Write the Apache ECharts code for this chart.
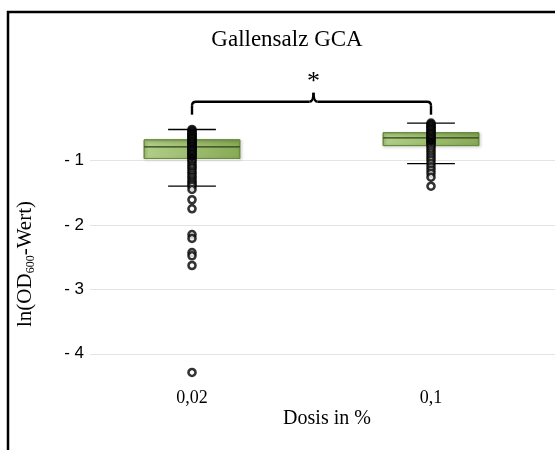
<!DOCTYPE html>
<html>
<head>
<meta charset="utf-8">
<script src="https://cdn.jsdelivr.net/npm/echarts@6/dist/echarts.min.js"></script>
<style>
  html, body { margin: 0; padding: 0; background: #fff; }
  #chart { width: 555px; height: 450px; }
</style>
</head>
<body>
<div id="chart"></div>
<script>
// Box-and-whisker summary per dose group
const categories = ['0,02', '0,1'];
const whiskerLow = [-1.40, -1.05];
const quartile1 = [-0.97, -0.77];
const medians = [-0.79, -0.65];
const quartile3 = [-0.68, -0.57];
const whiskerHigh = [-0.52, -0.42];
const means = [-0.95, -0.71];

// Individual measurements (inner points and outliers)
const pointsLowDose = [-0.52, -0.54, -0.56, -0.58, -0.60, -0.61, -0.63, -0.65, -0.66, -0.68,
  -0.70, -0.71, -0.73, -0.74, -0.76, -0.78, -0.79, -0.81, -0.83, -0.84, -0.86, -0.88,
  -0.90, -0.91, -0.93, -0.95, -0.97, -1.00, -1.03, -1.07, -1.10, -1.13, -1.17, -1.20,
  -1.24, -1.27, -1.31, -1.34, -1.37, -1.40];
const outliersLowDose = [-1.45, -1.61, -1.75, -2.15, -2.21, -2.43, -2.48, -2.63, -4.29];
const pointsHighDose = [-0.42, -0.44, -0.46, -0.48, -0.50, -0.52, -0.54, -0.56, -0.58, -0.60,
  -0.62, -0.64, -0.66, -0.68, -0.70, -0.72, -0.74, -0.77, -0.80, -0.84, -0.88, -0.92,
  -0.96, -1.00, -1.05];
const outliersHighDose = [-1.10, -1.15, -1.20, -1.26, -1.40];

// Axis ticks and texts
const yTicks = [-1, -2, -3, -4];
const yMin = -4.5;
const yMax = 0;
const chartTitle = 'Gallensalz GCA';
const xTitle = 'Dosis in %';
const significance = '*';

const serif = '"Liberation Serif", "Times New Roman", serif';
const sans = '"Liberation Sans", Arial, sans-serif';

const chart = echarts.init(document.getElementById('chart'), null, { renderer: 'canvas' });

const boxData = categories.map((c, i) =>
  [i, whiskerLow[i], quartile1[i], medians[i], quartile3[i], whiskerHigh[i]]);

const allLow = pointsLowDose.concat(outliersLowDose).map(v => [0, v]);
const allHigh = pointsHighDose.concat(outliersHighDose).map(v => [1, v]);

function renderBox(params, api) {
  const idx = api.value(0);
  const lo = api.coord([idx, api.value(1)]);
  const q1 = api.coord([idx, api.value(2)]);
  const md = api.coord([idx, api.value(3)]);
  const q3 = api.coord([idx, api.value(4)]);
  const hi = api.coord([idx, api.value(5)]);
  const band = api.size([1, 0])[0];
  const bw = band * 0.4;
  const cw = band * 0.2;
  const x = q1[0];
  return {
    type: 'group',
    children: [
      { type: 'line', shape: { x1: x, y1: hi[1], x2: x, y2: lo[1] },
        style: { stroke: '#000', lineWidth: 1 } },
      { type: 'rect',
        shape: { x: x - bw / 2, y: q3[1], width: bw, height: q1[1] - q3[1] },
        style: {
          fill: new echarts.graphic.LinearGradient(0, 0, 1, 0, [
            { offset: 0, color: '#b1cf88' },
            { offset: 1, color: '#86aa55' }
          ]),
          stroke: '#6a8a3c', lineWidth: 1,
          shadowBlur: 3, shadowColor: 'rgba(0,0,0,0.3)', shadowOffsetX: 1, shadowOffsetY: 1
        } },
      { type: 'line', shape: { x1: x - bw / 2, y1: md[1], x2: x + bw / 2, y2: md[1] },
        style: { stroke: '#2e3d1b', lineWidth: 1.3 } },
      { type: 'line', shape: { x1: x - cw / 2, y1: hi[1], x2: x + cw / 2, y2: hi[1] },
        style: { stroke: '#000', lineWidth: 1.3 } },
      { type: 'line', shape: { x1: x - cw / 2, y1: lo[1], x2: x + cw / 2, y2: lo[1] },
        style: { stroke: '#000', lineWidth: 1.3 } }
    ]
  };
}

const pointStyle = { color: '#fff', borderColor: '#000', borderWidth: 2.6 };

chart.setOption({
  animation: false,
  grid: [
    { left: 90, right: 0, top: 96, bottom: 64 },
    { left: 72.5, right: 4.5, top: 96, bottom: 64 }
  ],
  xAxis: [
    { gridIndex: 0, type: 'value', min: 0, max: 1, show: false },
    { gridIndex: 1, type: 'category', data: categories,
      axisLine: { show: false }, axisTick: { show: false }, splitLine: { show: false },
      axisLabel: { fontFamily: serif, fontSize: 18, color: '#000', margin: 3 } }
  ],
  yAxis: [
    { gridIndex: 0, type: 'value', min: yMin, max: yMax,
      axisLine: { show: false },
      axisTick: { show: false, customValues: yTicks },
      axisLabel: { customValues: yTicks, formatter: v => '- ' + Math.abs(v),
        fontFamily: sans, fontSize: 17, color: '#000', margin: 6 },
      splitLine: { show: true, lineStyle: { color: '#e4e4e4', width: 1 } } },
    { gridIndex: 1, type: 'value', min: yMin, max: yMax, show: false }
  ],
  series: [
    { type: 'custom', xAxisIndex: 1, yAxisIndex: 1, data: boxData,
      encode: { x: 0, y: [1, 2, 3, 4, 5] }, renderItem: renderBox, z: 2 },
    { type: 'scatter', xAxisIndex: 1, yAxisIndex: 1, data: allLow.concat(allHigh),
      symbol: 'circle', symbolSize: 7, itemStyle: pointStyle, z: 3 },
    { type: 'scatter', xAxisIndex: 1, yAxisIndex: 1,
      data: means.map((v, i) => [i, v]),
      symbol: 'diamond', symbolSize: 9, itemStyle: { color: '#000' }, z: 4 }
  ]
});

// Significance bracket between both groups, anchored on the data scale
const toPx = (i, v) => chart.convertToPixel({ xAxisIndex: 1, yAxisIndex: 1 }, [i, v]);
const left = toPx(0, -0.09);
const right = toPx(1, -0.09);
const legEnd = toPx(0, -0.29)[1];
const tipY = toPx(0, 0.05)[1];
const starY = toPx(0, 0.25)[1];
const yL = left[1];
const xL = left[0];
const xR = right[0];
const xM = (xL + xR) / 2 + 2;
const r = 4;
const stroke = { stroke: '#000', lineWidth: 2.4, fill: null };

const bracketParts = [
  { type: 'polyline', shape: { points: [[xL, legEnd], [xL, yL + r]] }, style: stroke },
  { type: 'bezierCurve', shape: { x1: xL, y1: yL + r, cpx1: xL, cpy1: yL, x2: xL + r, y2: yL }, style: stroke },
  { type: 'polyline', shape: { points: [[xL + r, yL], [xM - 4, yL]] }, style: stroke },
  { type: 'bezierCurve', shape: { x1: xM - 4, y1: yL, cpx1: xM, cpy1: yL, x2: xM, y2: tipY }, style: stroke },
  { type: 'bezierCurve', shape: { x1: xM, y1: tipY, cpx1: xM, cpy1: yL, x2: xM + 4, y2: yL }, style: stroke },
  { type: 'polyline', shape: { points: [[xM + 4, yL], [xR - r, yL]] }, style: stroke },
  { type: 'bezierCurve', shape: { x1: xR - r, y1: yL, cpx1: xR, cpy1: yL, x2: xR, y2: yL + r }, style: stroke },
  { type: 'polyline', shape: { points: [[xR, yL + r], [xR, legEnd]] }, style: stroke }
];

chart.setOption({
  graphic: [
    { type: 'polyline', shape: { points: [[8, 450], [8, 12], [555, 12]] },
      style: { stroke: '#000', lineWidth: 2.5, fill: null }, silent: true },
    { type: 'group', children: bracketParts, silent: true },
    { type: 'text', x: xM, y: starY + 2,
      style: { text: significance, font: '26px ' + serif, fill: '#000',
        textAlign: 'center', textVerticalAlign: 'middle' } },
    { type: 'text', x: 287, y: 40,
      style: { text: chartTitle, font: '23px ' + serif, fill: '#000',
        textAlign: 'center', textVerticalAlign: 'middle' } },
    { type: 'text', x: 327, y: 419,
      style: { text: xTitle, font: '20px ' + serif, fill: '#000',
        textAlign: 'center', textVerticalAlign: 'middle' } },
    { type: 'text', x: 25, y: 264, rotation: Math.PI / 2,
      style: {
        text: '{a|ln(OD}{b|600}{a|-Wert)}',
        textAlign: 'center', textVerticalAlign: 'middle',
        rich: {
          a: { fontFamily: serif, fontSize: 21, lineHeight: 24, fill: '#000' },
          b: { fontFamily: serif, fontSize: 12, lineHeight: 14, verticalAlign: 'bottom', fill: '#000' }
        }
      } }
  ]
});
</script>
</body>
</html>
